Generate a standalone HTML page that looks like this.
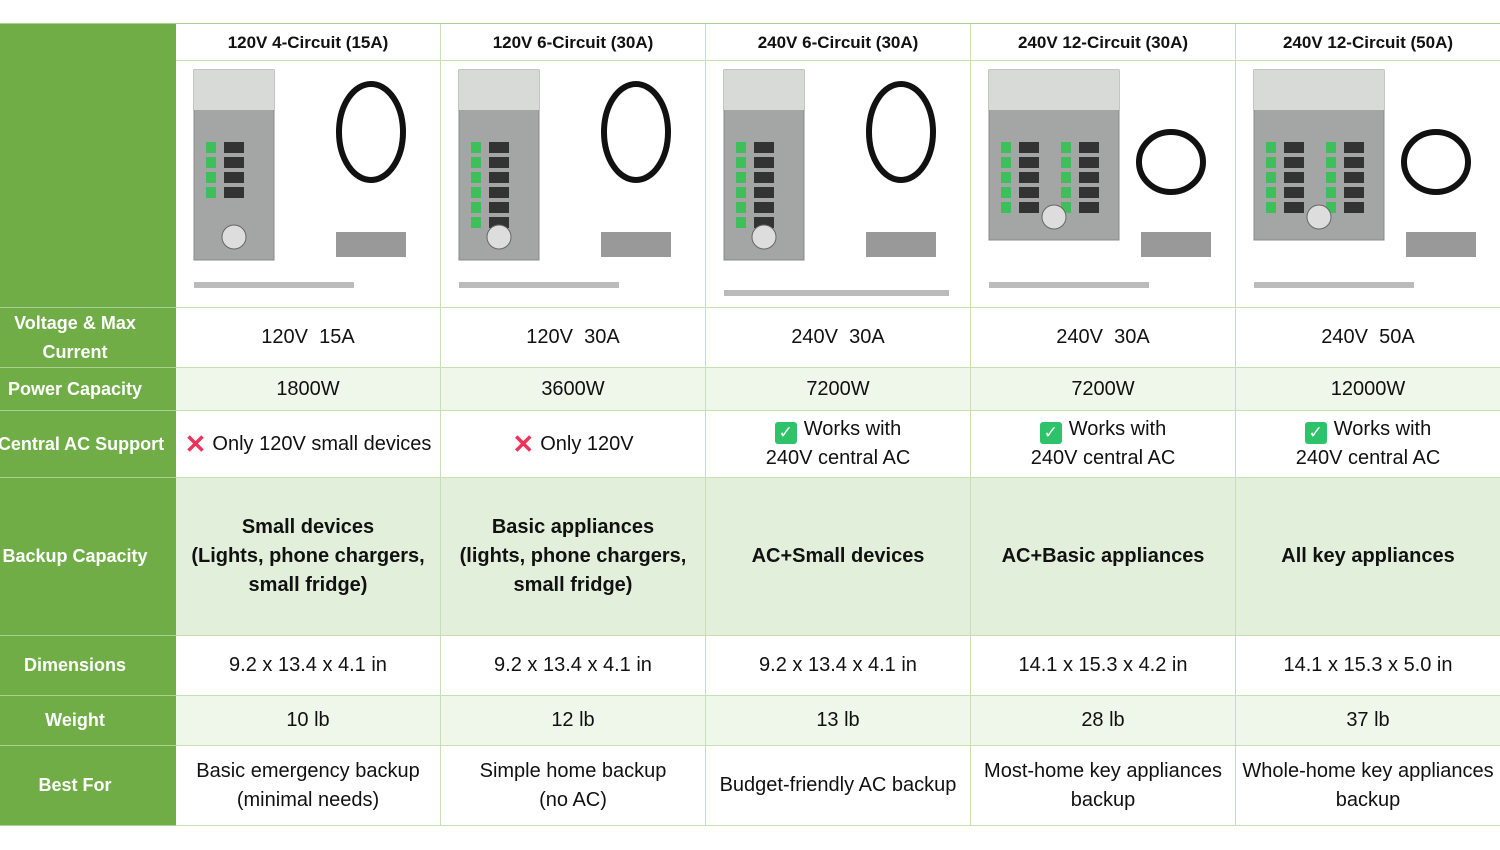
<!DOCTYPE html>
<html><head><meta charset="utf-8"><style>
body{margin:0;width:1500px;height:850px;background:#fff;position:relative;overflow:hidden;font-family:"Liberation Sans",sans-serif;}
.c{position:absolute;box-sizing:border-box;display:flex;align-items:center;justify-content:center;text-align:center;color:#111;font-size:20px;line-height:29px;border-right:1px solid #c6e0b4;border-bottom:1px solid #c6e0b4;}
.l{background:#70ad47;color:#fff;font-weight:bold;font-size:18px;border-right:none;border-bottom:1px solid #a9d08e;padding-right:26px;white-space:nowrap;}
.h{font-weight:bold;font-size:17px;}
.b{font-weight:bold;}
.x{color:#f0325a;font-weight:bold;font-size:26px;margin-right:6px;}
.k{display:inline-block;width:22px;height:22px;background:#2ec26a;border-radius:3px;color:#fff;font-size:17px;line-height:22px;margin-right:7px;vertical-align:-3px;}
</style></head><body>
<div style="position:absolute;left:0;top:23px;width:1500px;height:2px;background:#a9d08e"></div>
<div class="c l" style="left:0;top:24px;width:176px;height:284px"></div>
<div class="c l" style="left:0;top:308px;width:176px;height:60px;white-space:normal">Voltage &amp; Max<br>Current</div>
<div class="c l" style="left:0;top:368px;width:176px;height:43px">Power Capacity</div>
<div class="c l" style="left:-14px;top:411px;width:190px;height:67px;padding-right:0">Central AC Support</div>
<div class="c l" style="left:0;top:478px;width:176px;height:158px">Backup Capacity</div>
<div class="c l" style="left:0;top:636px;width:176px;height:60px">Dimensions</div>
<div class="c l" style="left:0;top:696px;width:176px;height:50px">Weight</div>
<div class="c l" style="left:0;top:746px;width:176px;height:80px">Best For</div>
<div id="g"></div>
<script>
var X=[176,441,706,971,1236,1501];
var H=["120V 4-Circuit (15A)","120V 6-Circuit (30A)","240V 6-Circuit (30A)","240V 12-Circuit (30A)","240V 12-Circuit (50A)"];
var V=["120V&nbsp;&nbsp;15A","120V&nbsp;&nbsp;30A","240V&nbsp;&nbsp;30A","240V&nbsp;&nbsp;30A","240V&nbsp;&nbsp;50A"];
var P=["1800W","3600W","7200W","7200W","12000W"];
var A=['<span class="x">✕</span>Only 120V small devices','<span class="x">✕</span>Only 120V','<span><span class="k">✓</span>Works with<br>240V central AC</span>','<span><span class="k">✓</span>Works with<br>240V central AC</span>','<span><span class="k">✓</span>Works with<br>240V central AC</span>'];
var B=["Small devices<br>(Lights, phone chargers,<br>small fridge)","Basic appliances<br>(lights, phone chargers,<br>small fridge)","AC+Small devices","AC+Basic appliances","All key appliances"];
var D=["9.2 x 13.4 x 4.1 in","9.2 x 13.4 x 4.1 in","9.2 x 13.4 x 4.1 in","14.1 x 15.3 x 4.2 in","14.1 x 15.3 x 5.0 in"];
var W=["10 lb","12 lb","13 lb","28 lb","37 lb"];
var F=["Basic emergency backup<br>(minimal needs)","Simple home backup<br>(no AC)","Budget-friendly AC backup","Most-home key appliances<br>backup","Whole-home key appliances<br>backup"];
var E=["","","","",""];
var rows=[[61,247,E,"#fff","c"],[24,37,H,"#fff","c h"],[308,60,V,"#fff","c"],[368,43,P,"#eff6ea","c"],[411,67,A,"#fff","c"],[478,158,B,"#e2efda","c b"],[636,60,D,"#fff","c"],[696,50,W,"#eff6ea","c"],[746,80,F,"#fff","c"]];
var s="";
for(var i=0;i<5;i++){
 var x=X[i],w=X[i+1]-X[i];
 rows.forEach(function(r){s+='<div class="'+r[4]+'" style="left:'+x+'px;top:'+r[0]+'px;width:'+w+'px;height:'+r[1]+'px;background:'+r[3]+'">'+r[2][i]+'</div>';});
 var big=i>=3, pw=big?130:80, ph=big?170:190;
 var sv='<svg width="'+(w-2)+'" height="245" style="position:absolute;left:'+x+'px;top:62px">';
 sv+='<rect x="18" y="8" width="'+pw+'" height="'+(ph)+'" fill="#a3a6a4" stroke="#888"/>';
 sv+='<rect x="18" y="8" width="'+pw+'" height="40" fill="#d8dad8"/>';
 var n=big?5:(i==0?4:6);
 for(var j=0;j<n;j++){sv+='<rect x="30" y="'+(80+j*15)+'" width="10" height="11" fill="#3fbf5a"/><rect x="48" y="'+(80+j*15)+'" width="20" height="11" fill="#333"/>';
  if(big){sv+='<rect x="90" y="'+(80+j*15)+'" width="10" height="11" fill="#3fbf5a"/><rect x="108" y="'+(80+j*15)+'" width="20" height="11" fill="#333"/>';}}
 sv+='<circle cx="'+(18+pw/2)+'" cy="'+(ph-15)+'" r="12" fill="#ddd" stroke="#666"/>';
 sv+='<ellipse cx="'+(big?200:195)+'" cy="'+(big?100:70)+'" rx="32" ry="'+(big?30:48)+'" fill="none" stroke="#111" stroke-width="6"/>';
 sv+='<rect x="'+(big?170:160)+'" y="170" width="70" height="25" fill="#999"/>';
 sv+='<rect x="18" y="'+(i==2?228:220)+'" width="'+(i==2?225:160)+'" height="6" fill="#bbb"/>';
 sv+='</svg>';
 s+=sv;
}
document.getElementById("g").innerHTML=s;
</script>
</body></html>
